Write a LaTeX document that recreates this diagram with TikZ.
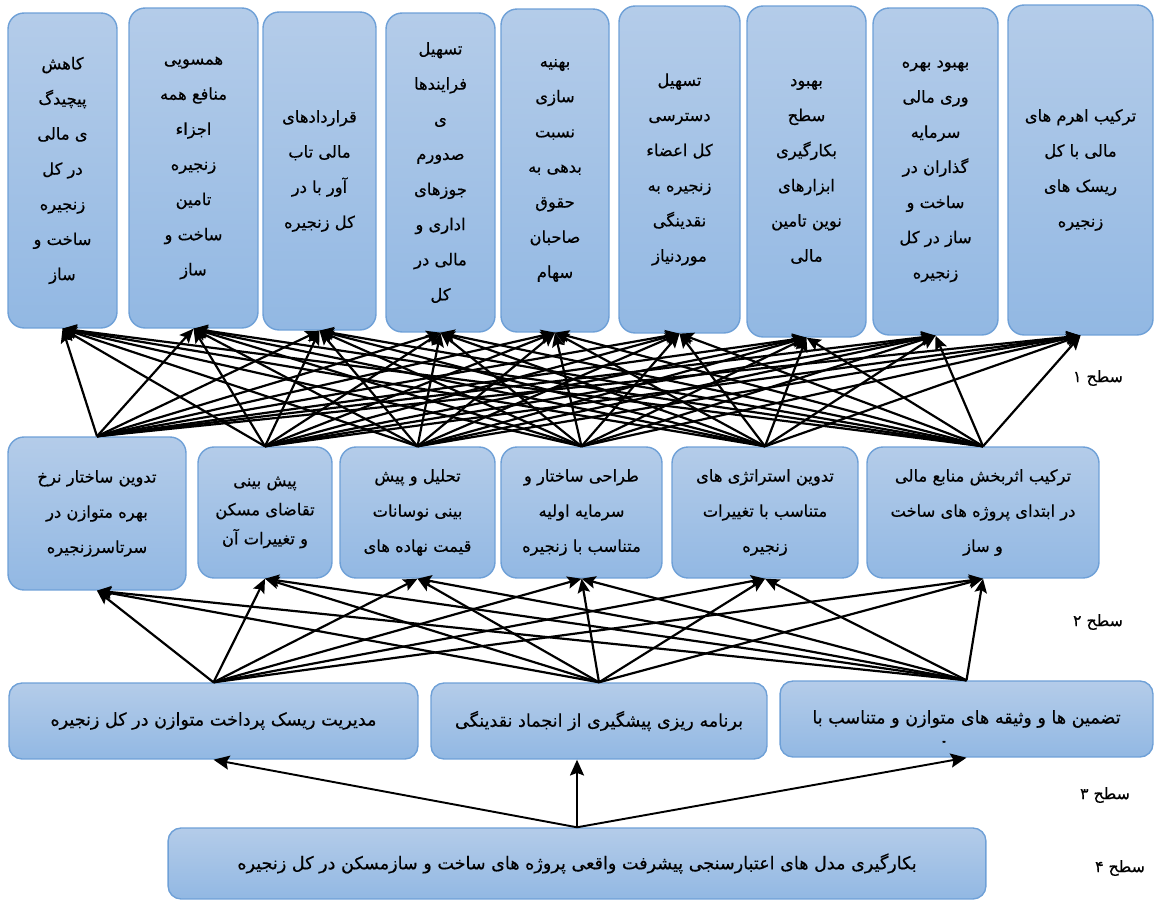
\documentclass[tikz,border=0pt]{standalone}
\usepackage{fontspec}
\newfontfamily\fa[Script=Arabic,FakeBold=0.5]{DejaVu Sans}
\TeXXeTstate=1
\usetikzlibrary{arrows.meta}
\newcommand\rl[1]{\beginR #1\endR}
\definecolor{bx}{RGB}{110,160,215}
\definecolor{bt}{RGB}{180,204,233}
\definecolor{bb}{RGB}{146,184,227}
\begin{document}
\begin{tikzpicture}[x=0.02cm,y=-0.02cm,
  box/.style={draw=bx, line width=0.8pt, top color=bt, bottom color=bb,
    rounded corners=0.32cm, align=center, inner sep=0pt,
    font=\fa\fontsize{9.3}{20}\selectfont},
  wide/.style={box, rounded corners=0.26cm, minimum height=1.52cm,
    font=\fa\fontsize{10}{12}\selectfont},
  arr/.style={-{Stealth[length=8pt,width=7pt,inset=1.5pt]}, line width=1.25pt},
  arrb/.style={-{Stealth[length=9pt,width=8pt,inset=1.5pt]}, line width=1.1pt},
  lvl/.style={font=\fa\fontsize{9}{11}\selectfont}]
\useasboundingbox (0,0) rectangle (1155,901);

% level 1 (top)
\node[box, minimum width=2.18cm, minimum height=6.30cm] (t1) at (62.5,170.5)
  {\rl{کاهش}\\\rl{پیچیدگ}\\\rl{ی مالی}\\\rl{در کل}\\\rl{زنجیره}\\\rl{ساخت و}\\\rl{ساز}};
\node[box, minimum width=2.58cm, minimum height=6.40cm] (t2) at (193.5,168)
  {\rl{همسویی}\\\rl{منافع همه}\\\rl{اجزاء}\\\rl{زنجیره}\\\rl{تامین}\\\rl{ساخت و}\\\rl{ساز}};
\node[box, minimum width=2.26cm, minimum height=6.36cm] (t3) at (319.5,171)
  {\rl{قراردادهای}\\\rl{مالی تاب}\\\rl{آور با در}\\\rl{کل زنجیره}};
\node[box, minimum width=2.18cm, minimum height=6.38cm] (t4) at (440.5,172.5)
  {\rl{تسهیل}\\\rl{فرایندها}\\\rl{ی}\\\rl{صدورم}\\\rl{جوزهای}\\\rl{اداری و}\\\rl{مالی در}\\\rl{کل}};
\node[box, minimum width=2.16cm, minimum height=6.46cm] (t5) at (555,170.5)
  {\rl{بهنیه}\\\rl{سازی}\\\rl{نسبت}\\\rl{بدهی به}\\\rl{حقوق}\\\rl{صاحبان}\\\rl{سهام}};
\node[box, minimum width=2.42cm, minimum height=6.54cm] (t6) at (679.5,169.5)
  {\rl{تسهیل}\\\rl{دسترسی}\\\rl{کل اعضاء}\\\rl{زنجیره به}\\\rl{نقدینگی}\\\rl{موردنیاز}};
\node[box, minimum width=2.38cm, minimum height=6.62cm] (t7) at (806.5,171.5)
  {\rl{بهبود}\\\rl{سطح}\\\rl{بکارگیری}\\\rl{ابزارهای}\\\rl{نوین تامین}\\\rl{مالی}};
\node[box, minimum width=2.50cm, minimum height=6.54cm] (t8) at (935.5,171.5)
  {\rl{بهبود بهره}\\\rl{وری مالی}\\\rl{سرمایه}\\\rl{گذاران در}\\\rl{ساخت و}\\\rl{ساز در کل}\\\rl{زنجیره}};
\node[box, minimum width=2.90cm, minimum height=6.60cm] (t9) at (1080.5,170)
  {\rl{ترکیب اهرم های}\\\rl{مالی با کل}\\\rl{ریسک های}\\\rl{زنجیره}};

% level 2
\node[box, minimum width=3.56cm, minimum height=3.06cm] (A) at (97,513.5)
  {\rl{تدوین ساختار نرخ}\\\rl{بهره متوازن در}\\\rl{سرتاسرزنجیره}};
\node[box, minimum width=2.68cm, minimum height=2.62cm, font=\fa\fontsize{9.3}{16.5}\selectfont] (B) at (265,512.5)
  {\rl{پیش بینی}\\\rl{تقاضای مسکن}\\\rl{و تغییرات آن}};
\node[box, minimum width=3.10cm, minimum height=2.62cm] (C) at (417.5,512.5)
  {\rl{تحلیل و پیش}\\\rl{بینی نوسانات}\\\rl{قیمت نهاده های}};
\node[box, minimum width=3.22cm, minimum height=2.62cm] (D) at (581.5,512.5)
  {\rl{طراحی ساختار و}\\\rl{سرمایه اولیه}\\\rl{متناسب با زنجیره}};
\node[box, minimum width=3.72cm, minimum height=2.62cm] (E) at (765,512.5)
  {\rl{تدوین استراتژی های}\\\rl{متناسب با تغییرات}\\\rl{زنجیره}};
\node[box, minimum width=4.64cm, minimum height=2.62cm] (F) at (983,512.5)
  {\rl{ترکیب اثربخش منابع مالی}\\\rl{در ابتدای پروژه های ساخت}\\\rl{و ساز}};

% level 3
\node[wide, minimum width=8.18cm] (G) at (213.5,721)
  {\rl{مدیریت ریسک پرداخت متوازن در کل زنجیره}};
\node[wide, minimum width=6.72cm] (H) at (599,721)
  {\rl{برنامه ریزی پیشگیری از انجماد نقدینگی}};
\node[wide, minimum width=7.46cm] (I) at (966.5,719)
  {\rl{تضمین ها و وثیقه های متوازن و متناسب با}};
\node[font=\fa\fontsize{5}{6}\selectfont] (mk) at (944,742) {\rl{ـِ}};

% level 4
\node[wide, minimum width=16.36cm, minimum height=1.42cm] (L) at (577,863.5)
  {\rl{بکارگیری مدل های اعتبارسنجی پیشرفت واقعی پروژه های ساخت و سازمسکن در کل زنجیره}};

% level labels
\node[lvl] (s1) at (1098,378) {\rl{سطح ۱}};
\node[lvl] (s2) at (1098,622) {\rl{سطح ۲}};
\node[lvl] (s3) at (1105,795) {\rl{سطح ۳}};
\node[lvl] (s4) at (1120,868) {\rl{سطح ۴}};

% connectors level 2 -> level 1
\foreach \s in {A,B,C,D,E,F}
  \foreach \t in {t1,t2,t3,t4,t5,t6,t7,t8,t9}
    \draw[arr] (\s.north) -- (\t.south);

% connectors level 3 -> level 2
\foreach \s in {G,H,I}
  \foreach \t in {A,B,C,D,E,F}
    \draw[arr] (\s.north) -- (\t.south);

% connectors level 4 -> level 3
\draw[arrb] (L.north) -- (G.south);
\draw[arrb] (L.north) -- (L.north |- H.south);
\draw[arrb] (L.north) -- (I.south);
\end{tikzpicture}
\end{document}
